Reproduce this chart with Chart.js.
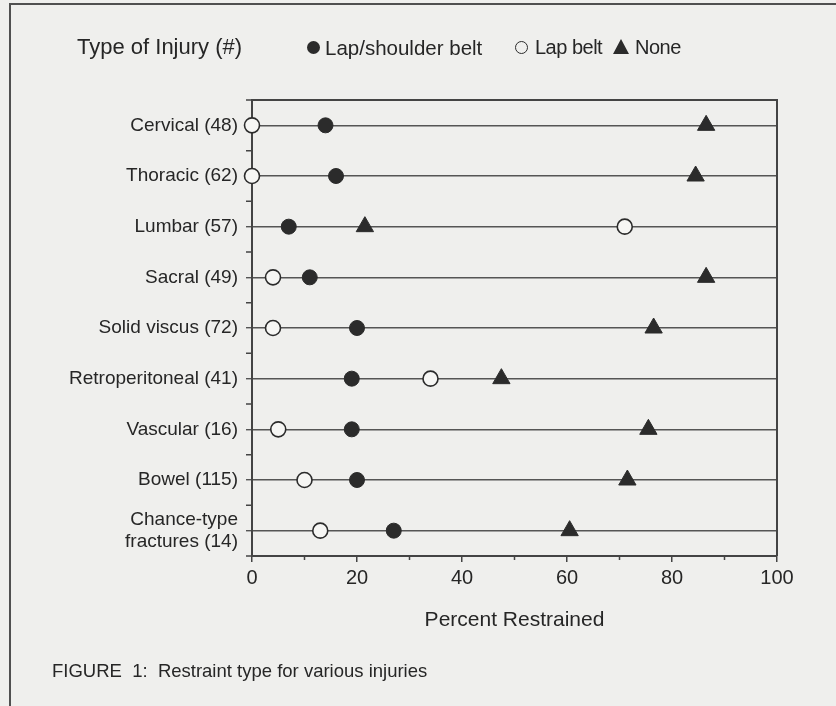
<!DOCTYPE html>
<html>
<head>
<meta charset="utf-8">
<script src="https://cdn.jsdelivr.net/npm/chart.js@4"></script>
<style>
  html, body { margin: 0; padding: 0; background: #efefed; }
  body { width: 836px; height: 706px; position: relative; overflow: hidden; font-family: 'Liberation Sans', Arial, sans-serif; color: #262626; }
  #frame { position: absolute; left: 9px; top: 3px; width: 840px; height: 720px; border-top: 2px solid #505050; border-left: 2px solid #505050; }
  #chart { position: absolute; left: 0; top: 0; }
  .txt { position: absolute; white-space: nowrap; }
  .dot { position: absolute; width: 13px; height: 13px; border-radius: 50%; box-sizing: border-box; }
  .tri { position: absolute; width: 0; height: 0; border-left: 8px solid transparent; border-right: 8px solid transparent; border-bottom: 15px solid #2b2b2b; }
</style>
</head>
<body>
<div id="frame"></div>
<canvas id="chart" width="836" height="706"></canvas>

<div class="txt" style="left:77px; top:34px; font-size:22px;">Type of Injury (#)</div>
<span class="dot" style="left:307px; top:41px; background:#2b2b2b;"></span>
<div class="txt" style="left:325px; top:36px; font-size:20.5px;">Lap/shoulder belt</div>
<span class="dot" style="left:515px; top:41px; border:1.5px solid #2b2b2b;"></span>
<div class="txt" style="left:535px; top:36px; font-size:20px; letter-spacing:-0.5px;">Lap belt</div>
<span class="tri" style="left:613px; top:39px;"></span>
<div class="txt" style="left:635px; top:36px; font-size:20px; letter-spacing:-0.5px;">None</div>
<div class="txt" style="left:52px; top:660px; font-size:18.5px;">FIGURE&nbsp; 1:&nbsp; Restraint type for various injuries</div>

<script>
// Values (percent restrained per injury type)
const categories = [
  'Cervical (48)',
  'Thoracic (62)',
  'Lumbar (57)',
  'Sacral (49)',
  'Solid viscus (72)',
  'Retroperitoneal (41)',
  'Vascular (16)',
  'Bowel (115)',
  ['Chance-type', 'fractures (14)'],
];
const lapShoulder = [14, 16, 7, 11, 20, 19, 19, 20, 27];
const lapBelt = [0, 0, 71, 4, 4, 34, 5, 10, 13];
const noRestraint = [86.5, 84.5, 21.5, 86.5, 76.5, 47.5, 75.5, 71.5, 60.5];
const xTicks = [0, 20, 40, 60, 80, 100];
const xMinorTicks = [10, 30, 50, 70, 90];

const FONT = "'Liberation Sans', Arial, sans-serif";
const INK = '#2b2b2b';
const LINE = '#555555';

function toPoints(values) {
  return values.map((v, i) => ({ x: v, y: i + 1 }));
}

/**
 * Plot frame (top + right edges) and the small minor ticks
 */
const frameTicks = {
  id: 'frameTicks',
  beforeDatasetsDraw(chart) {
    const { ctx, chartArea: a, scales } = chart;
    ctx.save();
    ctx.strokeStyle = '#444';
    ctx.lineWidth = 2;
    ctx.beginPath();
    ctx.moveTo(a.left, a.top);
    ctx.lineTo(a.right, a.top);
    ctx.lineTo(a.right, a.bottom);
    ctx.stroke();

    // half-step ticks on the category axis
    ctx.lineWidth = 1.5;
    ctx.beginPath();
    for (let i = 0; i <= categories.length; i++) {
      const y = scales.y.getPixelForValue(i + 0.5);
      ctx.moveTo(a.left - 6, y);
      ctx.lineTo(a.left, y);
    }
    // minor ticks on the percent axis
    xMinorTicks.forEach((v) => {
      const x = scales.x.getPixelForValue(v);
      ctx.moveTo(x, a.bottom);
      ctx.lineTo(x, a.bottom + 4);
    });
    ctx.stroke();
    ctx.restore();
  },
};

new Chart(document.getElementById('chart'), {
  type: 'scatter',
  data: {
    datasets: [
      {
        label: 'Lap/shoulder belt',
        data: toPoints(lapShoulder),
        pointStyle: 'circle',
        pointRadius: 7.5,
        backgroundColor: INK,
        borderColor: INK,
        borderWidth: 1,
        clip: false,
      },
      {
        label: 'Lap belt',
        data: toPoints(lapBelt),
        pointStyle: 'circle',
        pointRadius: 7.5,
        backgroundColor: '#f6f6f4',
        borderColor: INK,
        borderWidth: 1.6,
        clip: false,
      },
      {
        label: 'None',
        data: toPoints(noRestraint),
        pointStyle: 'triangle',
        pointRadius: 10,
        backgroundColor: INK,
        borderColor: INK,
        borderWidth: 1,
        clip: false,
      },
    ],
  },
  options: {
    responsive: false,
    animation: false,
    devicePixelRatio: 1,
    layout: { padding: { top: 100, right: 59, left: 0, bottom: 0 } },
    plugins: {
      legend: { display: false },
      tooltip: { enabled: false },
    },
    scales: {
      x: {
        type: 'linear',
        min: 0,
        max: 100,
        afterBuildTicks: (scale) => { scale.ticks = xTicks.map((v) => ({ value: v })); },
        afterFit: (scale) => { scale.height = 150; },
        grid: { drawOnChartArea: false, tickLength: 6, color: '#444', lineWidth: 1.5 },
        border: { display: true, color: '#444', width: 2 },
        ticks: { color: '#262626', font: { family: FONT, size: 20 }, padding: 4 },
        title: {
          display: true,
          text: 'Percent Restrained',
          color: '#262626',
          font: { family: FONT, size: 21 },
          padding: { top: 0, bottom: 73 },
        },
      },
      y: {
        type: 'linear',
        reverse: true,
        min: 0.5,
        max: categories.length + 0.5,
        afterBuildTicks: (scale) => { scale.ticks = categories.map((_, i) => ({ value: i + 1 })); },
        afterFit: (scale) => { scale.width = 252; },
        grid: { color: LINE, lineWidth: 1.4, tickLength: 6 },
        border: { display: true, color: '#444', width: 2 },
        ticks: {
          color: '#262626',
          font: { family: FONT, size: 19 },
          padding: 8,
          callback: (value) => categories[value - 1],
        },
      },
    },
  },
  plugins: [frameTicks],
});
</script>
</body>
</html>
